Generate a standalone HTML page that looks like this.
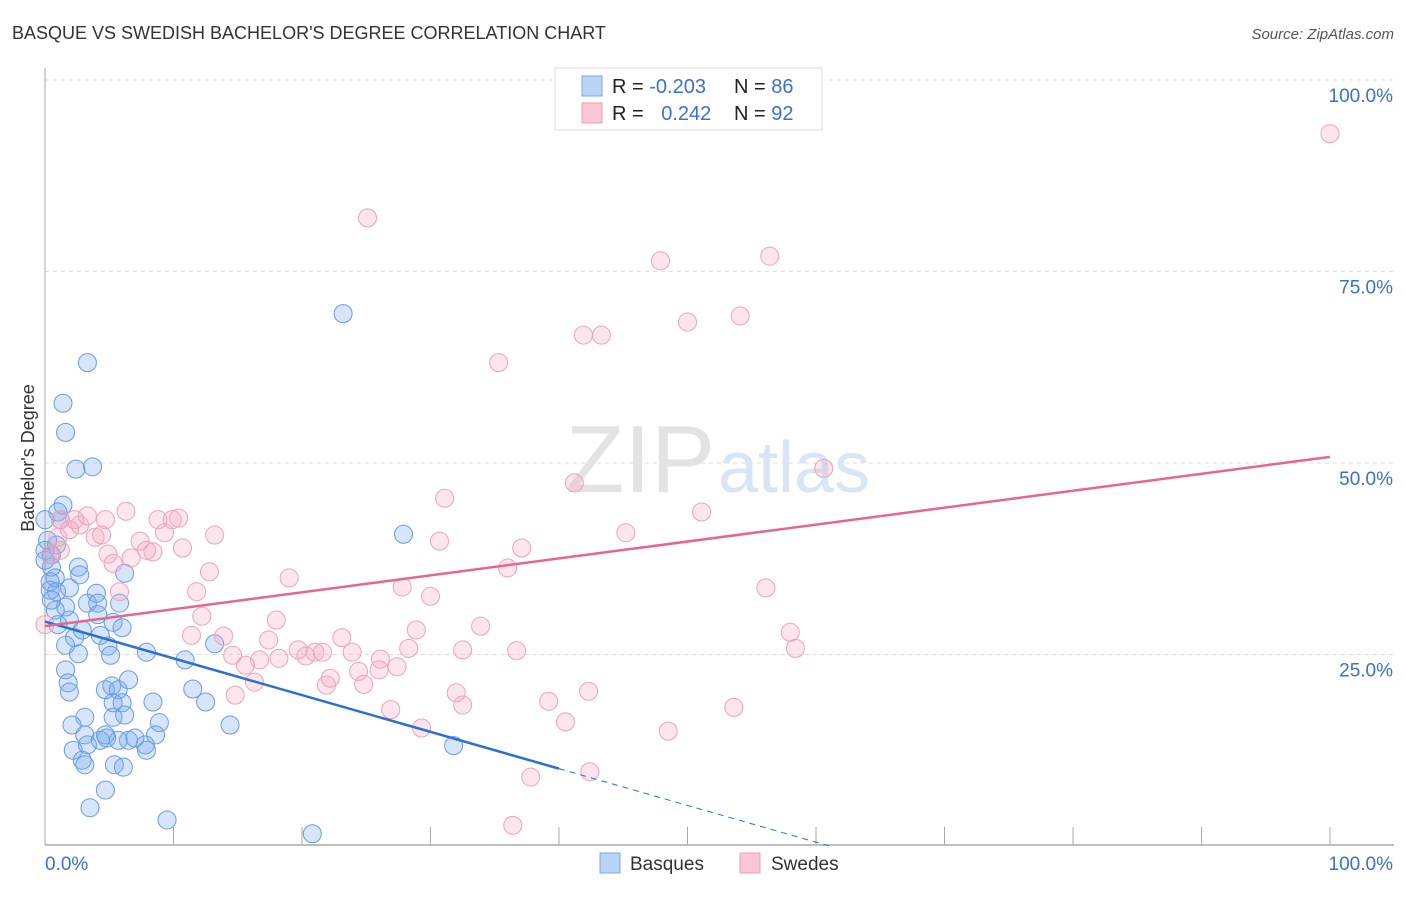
<!DOCTYPE html>
<html><head><meta charset="utf-8"><style>
body{margin:0;background:#fff;font-family:"Liberation Sans",sans-serif;}
svg text{font-family:"Liberation Sans",sans-serif;}
</style></head><body>
<svg id="chart" width="1406" height="892">
<text x="12" y="39" font-size="18" fill="#333">BASQUE VS SWEDISH BACHELOR'S DEGREE CORRELATION CHART</text>
<text x="1394" y="39" font-size="15" fill="#555" font-style="italic" text-anchor="end">Source: ZipAtlas.com</text>
<text x="0" y="0" transform="translate(34,458) rotate(-90)" font-size="18" fill="#333" text-anchor="middle">Bachelor's Degree</text>
<g id="grid"></g>
<text x="715" y="492" font-size="96" fill="#e3e3e3" text-anchor="end" font-family="Liberation Serif">ZIP</text>
<text x="718" y="492" font-size="72" fill="#d7e5f5">atlas</text>
<g id="pts"></g>
<g id="lines"></g>
<g>
<rect x="555" y="68" width="267" height="62" fill="#fff" stroke="#ddd"/>
<rect x="582" y="76" width="20" height="20" fill="#b9d3f5" stroke="#7aa7e5"/>
<rect x="582" y="103" width="20" height="20" fill="#f9c6d5" stroke="#ee9fb7"/>
<text x="612" y="93" font-size="20" fill="#222">R = <tspan fill="#3b6fd1">-0.203</tspan></text>
<text x="734" y="93" font-size="20" fill="#222">N = <tspan fill="#3b6fd1">86</tspan></text>
<text x="612" y="120" font-size="20" fill="#222">R = <tspan fill="#3b6fd1" dx="12">0.242</tspan></text>
<text x="734" y="120" font-size="20" fill="#222">N = <tspan fill="#3b6fd1">92</tspan></text>
</g>
<g>
<rect x="600" y="853" width="20" height="20" fill="#b9d3f5" stroke="#7aa7e5"/>
<text x="630" y="870" font-size="19" fill="#333">Basques</text>
<rect x="740" y="853" width="20" height="20" fill="#f9c6d5" stroke="#ee9fb7"/>
<text x="771" y="870" font-size="19" fill="#333">Swedes</text>
</g>
</svg>
<script>
const yTicks=[25,50,75,100];
const yTickLabels=["25.0%","50.0%","75.0%","100.0%"];
const xTickLabels=["0.0%","100.0%"];
const basqueX=[23.2,3.3,1.4,1.6,2.4,3.7,1.4,1.0,0.0,0.9,0.5,0.0,0.5,2.6,2.7,0.8,0.4,1.9,0.9,4.0,6.2,3.3,4.1,1.6,5.8,0.8,1.9,5.3,6.0,4.3,2.3,2.6,4.9,5.1,7.9,10.9,13.2,1.6,1.8,1.9,4.7,5.2,5.7,6.5,8.4,11.5,12.5,5.3,6.0,3.1,2.1,3.1,2.2,5.3,6.2,6.5,4.8,5.7,4.3,4.7,8.9,8.6,7.8,7.9,7.0,3.3,2.9,3.1,5.4,6.1,14.4,27.9,31.8,4.7,3.5,9.5,20.8,1.6,0.0,0.4,1.2,0.2,0.5,4.1,2.9,1.0];
const basqueY=[69.5,63.1,57.8,54.0,49.2,49.5,44.5,43.6,42.6,39.3,38.0,38.6,36.4,36.4,35.4,35.0,34.5,33.7,33.2,33.0,35.6,31.7,31.7,31.2,31.7,30.8,29.5,29.2,28.5,27.5,27.2,25.1,26.1,24.9,25.3,24.3,26.4,23.0,21.3,20.1,20.4,20.9,20.4,21.7,18.8,20.5,18.8,18.7,18.7,16.8,15.8,14.5,12.5,16.8,17.1,13.8,14.1,13.8,13.8,14.5,16.1,14.5,13.2,12.5,14.1,13.2,11.2,10.6,10.6,10.3,15.8,40.7,13.1,7.3,5.0,3.4,1.6,26.2,37.3,33.4,42.6,39.9,32.1,30.2,28.2,28.9];
const swedeX=[100,25.1,47.9,56.4,50.0,54.1,41.9,43.3,35.3,60.6,41.2,31.1,51.1,45.2,30.7,37.1,36.0,27.8,30.0,33.9,36.7,32.5,19.0,12.8,11.8,12.2,18.0,11.4,13.9,17.4,19.7,21.0,23.1,23.9,26.1,28.3,28.9,14.6,15.6,16.7,18.2,20.3,21.6,24.4,24.8,22.2,21.9,27.4,26.0,14.8,16.3,26.9,29.3,32.0,32.5,39.2,40.5,42.3,48.5,53.6,42.4,37.8,36.4,56.1,58.0,58.4,1.2,2.7,1.9,4.7,6.3,3.9,1.0,1.2,0.4,4.9,5.3,6.7,7.4,7.9,8.4,9.3,8.8,9.9,10.4,10.7,13.2,5.8,0.0,3.3,4.4,2.3];
const swedeY=[93.0,82.0,76.4,77.0,68.4,69.2,66.7,66.7,63.1,49.3,47.4,45.4,43.6,40.9,39.8,38.9,36.3,33.8,32.6,28.7,25.5,25.6,35.0,35.8,33.2,30.0,29.5,27.5,27.4,26.9,25.6,25.3,27.2,25.3,24.4,25.8,28.2,24.9,23.6,24.3,24.5,24.8,25.3,22.8,21.1,21.9,21.0,23.4,23.0,19.7,21.4,17.8,15.4,20.0,18.4,18.9,16.2,20.2,15.0,18.1,9.7,9.0,2.7,33.7,27.9,25.8,42.6,41.9,41.3,42.6,43.7,40.3,40.3,38.6,38.0,38.1,36.9,37.6,39.8,38.6,38.4,40.9,42.6,42.6,42.8,38.9,40.6,33.2,28.9,43.1,40.6,42.6];
const basqueFit=[29.3,-0.48];
const swedeFit=[28.7,0.221];
const NS="http://www.w3.org/2000/svg";
const sx=v=>45+v*12.85, sy=v=>846-v*7.66;
function mk(tag,attrs,parent){const e=document.createElementNS(NS,tag);for(const k in attrs)e.setAttribute(k,attrs[k]);parent.appendChild(e);return e;}
const grid=document.getElementById('grid');
yTicks.forEach((t,i)=>{
  const l=mk('line',{x1:45,x2:1394,y1:sy(t),y2:sy(t),stroke:'#ddd','stroke-dasharray':'4,4'},grid);
  
  
  const tx=mk('text',{x:1393,y:sy(t)+22,'font-size':19,fill:'#3b6fd1','text-anchor':'end'},grid);
  tx.textContent=yTickLabels[i];
  
  
});
const ax=mk('line',{x1:45,x2:1394,y1:845,y2:845,stroke:'#aaa','stroke-width':1.5},grid);


const ay=mk('line',{x1:45,x2:45,y1:68,y2:845,stroke:'#aaa'},grid);


for(let i=0;i<=10;i++){const t=mk('line',{x1:sx(i*10),x2:sx(i*10),y1:827,y2:845,stroke:'#aaa'},grid);
  
  }
[[0,'start',45],[100,'end',1393]].forEach((d,i)=>{const t=mk('text',{x:d[2],y:870,'font-size':19,fill:'#3b6fd1','text-anchor':d[1]},grid);t.textContent=xTickLabels[i];
  
  });
const pts=document.getElementById('pts');
basqueX.forEach((x,i)=>{const c=mk('circle',{cx:sx(x),cy:sy(basqueY[i]),r:9,fill:'rgba(120,170,235,0.3)',stroke:'#6b9be0','stroke-width':1},pts);
  
  });
swedeX.forEach((x,i)=>{const c=mk('circle',{cx:sx(x),cy:sy(swedeY[i]),r:9,fill:'rgba(245,170,192,0.3)',stroke:'#eea3ba','stroke-width':1},pts);
  
  });
const lines=document.getElementById('lines');
const bf=x=>basqueFit[0]+basqueFit[1]*x, sf=x=>swedeFit[0]+swedeFit[1]*x;
const bEnd=-basqueFit[0]/basqueFit[1];
const b1=mk('line',{x1:sx(0),y1:sy(bf(0)),x2:sx(40),y2:sy(bf(40)),stroke:'#2a6fd6','stroke-width':2.5},lines);


const b2=mk('line',{x1:sx(40),y1:sy(bf(40)),x2:sx(bEnd),y2:sy(bf(bEnd)),stroke:'#2a6fd6','stroke-width':1,'stroke-dasharray':'6,5'},lines);


const s1=mk('line',{x1:sx(0),y1:sy(sf(0)),x2:sx(100),y2:sy(sf(100)),stroke:'#e5668f','stroke-width':2.5},lines);


</script>
</body></html>
